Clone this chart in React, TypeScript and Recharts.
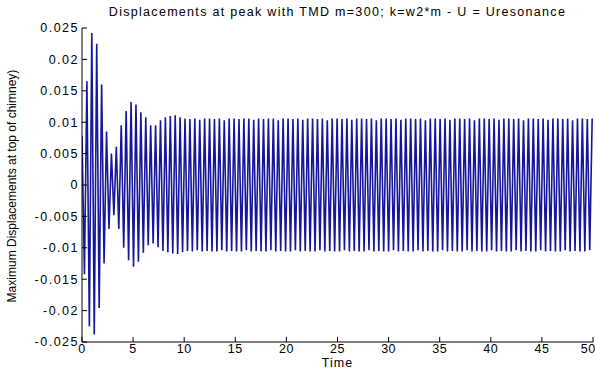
import { CartesianGrid, Line, LineChart, XAxis, YAxis } from "recharts";

// crest values, one per cycle
const crests = [
  0.0078, 0.0165, 0.0242, 0.0225, 0.016, 0.0085, 0.005, 0.0061, 0.0095, 0.0118,
  0.0132, 0.0128, 0.0116, 0.0108, 0.0095, 0.0095, 0.0103, 0.0108, 0.011, 0.0111,
  0.0108, 0.0106, 0.0105, 0.0106, 0.0104, 0.0106, 0.0106, 0.0105, 0.0106, 0.0103,
  0.0106, 0.0106, 0.0105, 0.0106, 0.0106, 0.0104, 0.0106, 0.0105, 0.0106, 0.0106,
  0.0103, 0.0106, 0.0106, 0.0105, 0.0106, 0.0104, 0.0106, 0.0106, 0.0105, 0.0106,
  0.0103, 0.0106, 0.0106, 0.0105, 0.0106, 0.0104, 0.0106, 0.0106, 0.0105, 0.0106,
  0.0103, 0.0106, 0.0106, 0.0105, 0.0106, 0.0104, 0.0106, 0.0106, 0.0105, 0.0106,
  0.0103, 0.0106, 0.0106, 0.0105, 0.0106, 0.0104, 0.0106, 0.0106, 0.0105, 0.0106,
  0.0103, 0.0106, 0.0106, 0.0105, 0.0106, 0.0104, 0.0106, 0.0106, 0.0105, 0.0106,
  0.0103, 0.0106, 0.0106, 0.0105, 0.0106, 0.0104, 0.0106, 0.0106, 0.0105, 0.0106,
  0.0103, 0.0106, 0.0106, 0.0105, 0.0106,
];

// trough values, half a cycle after each crest
const troughs = [
  -0.0142, -0.0225, -0.0238, -0.0196, -0.0125, -0.007, -0.0048, -0.007, -0.01, -0.012,
  -0.013, -0.0122, -0.0108, -0.0096, -0.0093, -0.0099, -0.0105, -0.0107, -0.0109, -0.011,
  -0.0107, -0.0105, -0.0106, -0.0104, -0.0106, -0.0105, -0.0106, -0.0106, -0.0104, -0.0106,
  -0.0105, -0.0106, -0.0106, -0.0104, -0.0106, -0.0105, -0.0106, -0.0106, -0.0104, -0.0106,
  -0.0105, -0.0106, -0.0106, -0.0104, -0.0106, -0.0105, -0.0106, -0.0106, -0.0104, -0.0106,
  -0.0105, -0.0106, -0.0106, -0.0104, -0.0106, -0.0105, -0.0106, -0.0106, -0.0104, -0.0106,
  -0.0105, -0.0106, -0.0106, -0.0104, -0.0106, -0.0105, -0.0106, -0.0106, -0.0104, -0.0106,
  -0.0105, -0.0106, -0.0106, -0.0104, -0.0106, -0.0105, -0.0106, -0.0106, -0.0104, -0.0106,
  -0.0105, -0.0106, -0.0106, -0.0104, -0.0106, -0.0105, -0.0106, -0.0106, -0.0104, -0.0106,
  -0.0105, -0.0106, -0.0106, -0.0104, -0.0106, -0.0105, -0.0106, -0.0106, -0.0104, -0.0106,
  -0.0105, -0.0106, -0.0106, -0.0104,
];

const HALF_STEP = 0.24; // time from a crest to the next trough

const xTicks = [0, 5, 10, 15, 20, 25, 30, 35, 40, 45, 50];
const yTicks = [
  -0.025, -0.02, -0.015, -0.01, -0.005, 0, 0.005, 0.01, 0.015, 0.02, 0.025,
];

const data: { t: number; y: number }[] = [];
for (let i = 0; i < crests.length; i++) {
  data.push({ t: 2 * i * HALF_STEP, y: crests[i] });
  if (i < troughs.length) {
    data.push({ t: (2 * i + 1) * HALF_STEP, y: troughs[i] });
  }
}

const FONT = "'Liberation Sans', Arial, sans-serif";
const xTickStyle = { fontSize: 12.5, fill: "#000", fontFamily: FONT, letterSpacing: 0.5 };
const yTickStyle = { fontSize: 12.5, fill: "#000", fontFamily: FONT, letterSpacing: 1.5 };

const fmt = (v: number) => {
  const r = Number(v.toFixed(3));
  return r === 0 ? "0" : String(r);
};

export default function App() {
  return (
    <div
      style={{
        position: "absolute",
        left: 0,
        top: 0,
        width: 595,
        height: 373,
        background: "#fff",
        fontFamily: FONT,
      }}
    >
      <LineChart
        width={595}
        height={373}
        data={data}
        margin={{ top: 28, right: 2, bottom: 0, left: 0 }}
      >
        <CartesianGrid stroke="none" />
        <XAxis
          xAxisId="b"
          type="number"
          dataKey="t"
          domain={[0, 50]}
          ticks={xTicks}
          allowDataOverflow
          height={31}
          stroke="#000"
          tickSize={-5}
          tickMargin={7}
          tick={xTickStyle}
        />
        <XAxis
          xAxisId="top"
          orientation="top"
          type="number"
          dataKey="t"
          domain={[0, 50]}
          ticks={xTicks}
          allowDataOverflow
          height={0}
          stroke="#000"
          tickSize={-5}
          tickFormatter={() => ""}
        />
        <YAxis
          yAxisId="l"
          type="number"
          domain={[-0.025, 0.025]}
          ticks={yTicks}
          allowDataOverflow
          width={82}
          stroke="#000"
          tickSize={-5}
          tickMargin={8}
          tick={yTickStyle}
          tickFormatter={fmt}
        />
        <YAxis
          yAxisId="r"
          orientation="right"
          type="number"
          domain={[-0.025, 0.025]}
          ticks={yTicks}
          allowDataOverflow
          width={0}
          stroke="#000"
          tickSize={-5}
          tickFormatter={() => ""}
        />
        <Line
          xAxisId="b"
          yAxisId="l"
          type="linear"
          dataKey="y"
          stroke="#16169c"
          strokeWidth={1.6}
          dot={false}
          isAnimationActive={false}
        />
      </LineChart>
      <div
        style={{
          position: "absolute",
          top: 5,
          left: 82,
          width: 511,
          textAlign: "center",
          fontSize: 12.5,
          letterSpacing: 1.3,
          color: "#000",
        }}
      >
        Displacements at peak with TMD m=300; k=w2*m - U = Uresonance
      </div>
      <div
        style={{
          position: "absolute",
          top: 356,
          left: 82,
          width: 511,
          textAlign: "center",
          fontSize: 12.5,
          letterSpacing: 1,
          color: "#000",
        }}
      >
        Time
      </div>
      <div
        style={{
          position: "absolute",
          left: 12,
          top: 186,
          transform: "translate(-50%, -50%) rotate(-90deg)",
          whiteSpace: "nowrap",
          fontSize: 12,
          color: "#000",
        }}
      >
        Maximum Displacements at top of chimney)
      </div>
    </div>
  );
}
